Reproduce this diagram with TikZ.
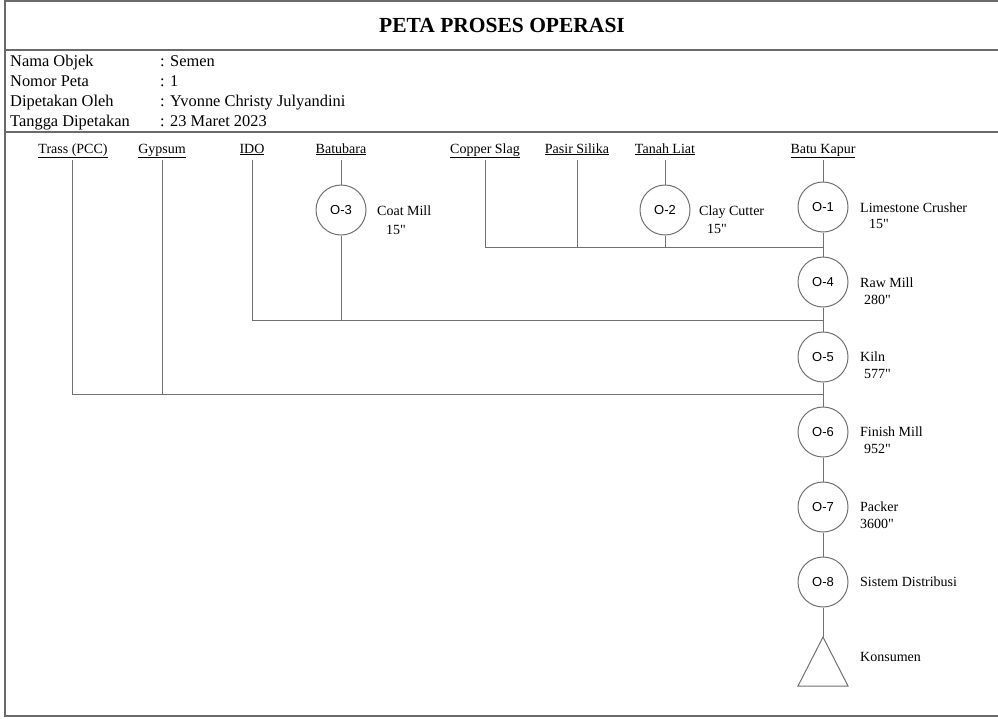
\documentclass[tikz,border=0pt]{standalone}
\usepackage{fontspec}
\setmainfont{Liberation Serif}[Ligatures=TeXOff]
\setsansfont{Liberation Sans}
\definecolor{linegray}{HTML}{707070}
\definecolor{framegray}{HTML}{6A6A6A}
\begin{document}
\begin{tikzpicture}[x=1pt,y=-1pt,
  frame/.style={draw=framegray,line width=1.4pt},
  conn/.style={draw=linegray,line width=1pt},
  op/.style={circle,draw=linegray,line width=1pt,minimum size=50pt,inner sep=0pt,font=\sffamily\fontsize{13}{15}\selectfont},
  hdr/.style={anchor=base west,inner sep=0pt,font=\fontsize{16.4}{19}\selectfont},
  src/.style={anchor=base,inner sep=0pt,font=\fontsize{14}{17}\selectfont},
  lbl/.style={anchor=base west,inner sep=0pt,font=\fontsize{14}{17}\selectfont}]
\useasboundingbox (0,0) rectangle (998,718);
% frame
\draw[frame] (1000,1) -- (5,1) -- (5,716) -- (1000,716);
\draw[frame] (5,50) -- (1000,50);
\draw[frame] (5,132) -- (1000,132);
% title
\node[anchor=base,inner sep=0pt,font=\bfseries\fontsize{21.5}{25}\selectfont] (title) at (502,32) {PETA PROSES OPERASI};
% header
\node[hdr] (h1) at (10,66) {Nama Objek};
\node[hdr] (h2) at (10,86) {Nomor Peta};
\node[hdr] (h3) at (10,106) {Dipetakan Oleh};
\node[hdr] (h4) at (10,126) {Tangga Dipetakan};
\node[hdr] (v1) at (160,66) {: Semen};
\node[hdr] (v2) at (160,86) {: 1};
\node[hdr] (v3) at (160,106) {: Yvonne Christy Julyandini};
\node[hdr] (v4) at (160,126) {: 23 Maret 2023};
% source labels
\node[src] (trass) at (73,153) {\underline{Trass (PCC)}};
\node[src] (gyps) at (162,153) {\underline{Gypsum}};
\node[src] (ido) at (252,153) {\underline{IDO}};
\node[src] (batu) at (341,153) {\underline{Batubara}};
\node[src] (copper) at (485,153) {\underline{Copper Slag}};
\node[src] (pasir) at (577,153) {\underline{Pasir Silika}};
\node[src] (tanah) at (665,153) {\underline{Tanah Liat}};
\node[src] (kapur) at (823,153) {\underline{Batu Kapur}};
\coordinate (trassT) at (72,160);
\coordinate (gypsT) at (162,160);
\coordinate (idoT) at (252,160);
\coordinate (batuT) at (341,160);
\coordinate (copperT) at (485,160);
\coordinate (pasirT) at (577,160);
\coordinate (tanahT) at (665,160);
\coordinate (kapurT) at (823,160);
% operations
\node[op] (o1) at (823,207) {O-1};
\node[op] (o2) at (665,210) {O-2};
\node[op] (o3) at (341,210) {O-3};
\node[op] (o4) at (823,282) {O-4};
\node[op] (o5) at (823,357) {O-5};
\node[op] (o6) at (823,432) {O-6};
\node[op] (o7) at (823,507) {O-7};
\node[op] (o8) at (823,582) {O-8};
\coordinate (kons) at (823,637);
\draw[conn] (kons) -- (798,686) -- (848,686) -- cycle;
% junctions
\coordinate (j1) at (823,247);
\coordinate (j2) at (823,320);
\coordinate (j3) at (823,394);
% labels
\node[lbl] (l1a) at (860,212) {Limestone Crusher};
\node[lbl] (l1b) at (869,228) {15"};
\node[lbl] (l2a) at (699,215) {Clay Cutter};
\node[lbl] (l2b) at (707,233) {15"};
\node[lbl] (l3a) at (377,215) {Coat Mill};
\node[lbl] (l3b) at (386,234) {15"};
\node[lbl] (l4a) at (860,287) {Raw Mill};
\node[lbl] (l4b) at (864,304) {280"};
\node[lbl] (l5a) at (860,361) {Kiln};
\node[lbl] (l5b) at (864,378) {577"};
\node[lbl] (l6a) at (860,436) {Finish Mill};
\node[lbl] (l6b) at (864,453) {952"};
\node[lbl] (l7a) at (860,511) {Packer};
\node[lbl] (l7b) at (860,528) {3600"};
\node[lbl] (l8a) at (860,586) {Sistem Distribusi};
\node[lbl] (l9a) at (860,661) {Konsumen};
% connectors
\draw[conn] (kapurT) -- (o1);
\draw[conn] (o1) -- (o4);
\draw[conn] (o4) -- (o5);
\draw[conn] (o5) -- (o6);
\draw[conn] (o6) -- (o7);
\draw[conn] (o7) -- (o8);
\draw[conn] (o8) -- (kons);
\draw[conn] (tanahT) -- (o2);
\draw[conn] (o2) -- (o2 |- j1);
\draw[conn] (copperT) |- (j1);
\draw[conn] (pasirT) -- (pasirT |- j1);
\draw[conn] (batuT) -- (o3);
\draw[conn] (o3) -- (o3 |- j2);
\draw[conn] (idoT) |- (j2);
\draw[conn] (trassT) |- (j3);
\draw[conn] (gypsT) -- (gypsT |- j3);
\end{tikzpicture}
\end{document}
